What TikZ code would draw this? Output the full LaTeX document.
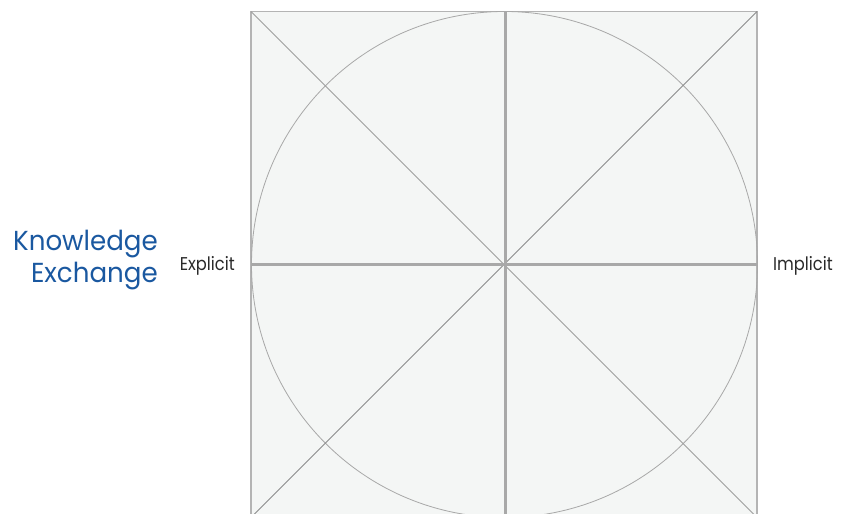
\documentclass[tikz,border=0pt]{standalone}
\usepackage{fontspec}
\setmainfont{Poppins}
\newfontfamily\sidefont[FakeStretch=0.88]{Poppins}
\newfontfamily\titlefont[FakeStretch=0.95]{Poppins}
\definecolor{kblue}{HTML}{1A58A0}
\definecolor{kfill}{HTML}{F4F6F5}
\definecolor{kedge}{HTML}{B4B4B4}
\definecolor{kaxis}{HTML}{A8A8A8}
\definecolor{ktext}{HTML}{2A2A2A}
\tikzset{
  frame/.style={draw=kedge, line width=1.2pt, fill=kfill},
  axisline/.style={draw=kaxis, line width=2.4pt},
  diagline/.style={draw=#1, line width=0.8pt},
  ring/.style={draw=kaxis, line width=0.8pt},
  sidelabel/.style={text=ktext, font=\sidefont\fontsize{18.5}{20}\selectfont, inner sep=0pt},
  titlelabel/.style={text=kblue, font=\titlefont\fontsize{27.5}{32}\selectfont, align=right, inner sep=0pt}
}
\begin{document}
\begin{tikzpicture}[x=1pt,y=-1pt]
\useasboundingbox (0,0) rectangle (849,514);
\clip (0,0) rectangle (849,514);
\coordinate (c) at (504.5,264.5);
\coordinate (tl) at (251,11.5);
\coordinate (tr) at (757,11.5);
\coordinate (bl) at (251,517.5);
\coordinate (br) at (757,517.5);
\coordinate (l) at (251,264.5);
\coordinate (r) at (757,264.5);
\coordinate (t) at (505.5,11.5);
\coordinate (b) at (505.5,517.5);
\path[frame] (tl) rectangle (br);
\draw[ring] (c) circle (253);
\draw[diagline=gray!75] (tl) -- (br);
\draw[diagline=gray!110!black] (bl) -- (tr);
\draw[axisline] (l) -- (r);
\draw[axisline] (t) -- (b);
\node[sidelabel, anchor=base east] (expl) at (235,270) {Explicit};
\node[sidelabel, anchor=base west] (impl) at (773,270) {Implicit};
\node[titlelabel, anchor=east] (title) at (158,260) {Knowledge\\Exchange};
\end{tikzpicture}
\end{document}
